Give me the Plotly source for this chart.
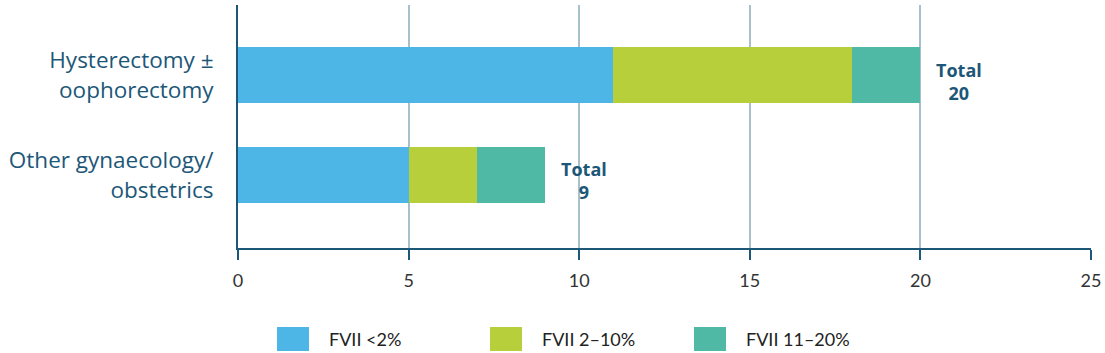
import plotly.graph_objects as go

categories = ["Hysterectomy ±<br>oophorectomy", "Other gynaecology/<br>obstetrics"]
series_names = ["FVII <2%", "FVII 2–10%", "FVII 11–20%"]
series_colors = ["#4db6e7", "#b6cf3a", "#4fb9a6"]
fvii_lt2 = [11, 5]
fvii_2_10 = [7, 2]
fvii_11_20 = [2, 2]
series_values = [fvii_lt2, fvii_2_10, fvii_11_20]
totals = [sum(v) for v in zip(*series_values)]
x_ticks = [0, 5, 10, 15, 20, 25]

DARK = "#1d5778"
GRID = "#a8c0cc"
FONT = "Lato"
FONT2 = "Open Sans"

fig = go.Figure()
for name, color, vals in zip(series_names, series_colors, series_values):
    fig.add_trace(go.Bar(
        y=categories, x=vals, name=name, orientation="h",
        marker=dict(color=color, line=dict(width=0)),
        width=0.56, showlegend=False,
    ))

for cat, tot, ys in zip(categories, totals, [-6, -5]):
    fig.add_annotation(
        x=tot, y=cat, xref="x", yref="y",
        text=f"<b>Total<br>{tot}</b>", showarrow=False,
        xanchor="left", align="center", xshift=14, yshift=ys,
        font=dict(family=FONT2, size=18, color=DARK),
    )

# custom legend with large swatches
leg_x = [277, 490, 694]
W = 1105
H = 353
for name, color, lx in zip(series_names, series_colors, leg_x):
    fig.add_shape(
        type="rect", xref="paper", yref="paper",
        x0=(lx - 238) / 853, x1=(lx + 32 - 238) / 853,
        y0=(248 - 351) / 243, y1=(248 - 327) / 243,
        fillcolor=color, line=dict(width=0),
    )
    fig.add_annotation(
        xref="paper", yref="paper",
        x=(lx + 50 - 238) / 853, y=(248 - 339) / 243,
        text=name, showarrow=False, xanchor="left", yanchor="middle",
        font=dict(family=FONT, size=18, color="#222222"),
    )

fig.update_layout(
    barmode="stack",
    width=W, height=H,
    margin=dict(l=238, r=14, t=5, b=105),
    paper_bgcolor="white", plot_bgcolor="white",
    font=dict(family=FONT),
    xaxis=dict(
        range=[0, 25], tickvals=x_ticks, ticktext=[str(t) for t in x_ticks],
        showgrid=True, gridcolor=GRID, gridwidth=1.5,
        showline=True, linecolor=DARK, linewidth=2,
        ticks="outside", ticklen=10, tickwidth=2, tickcolor=DARK,
        ticklabelstandoff=5,
        tickfont=dict(family=FONT, size=18, color="#333333"),
        zeroline=False, fixedrange=True,
    ),
    yaxis=dict(
        range=[1.73, -0.7], categoryorder="array", categoryarray=categories,
        showgrid=False, showline=True, linecolor=DARK, linewidth=2,
        ticks="", ticklabelstandoff=18,
        tickfont=dict(family=FONT2, size=22.5, color=DARK),
        zeroline=False, fixedrange=True,
    ),
)

fig.write_html("out.html")
